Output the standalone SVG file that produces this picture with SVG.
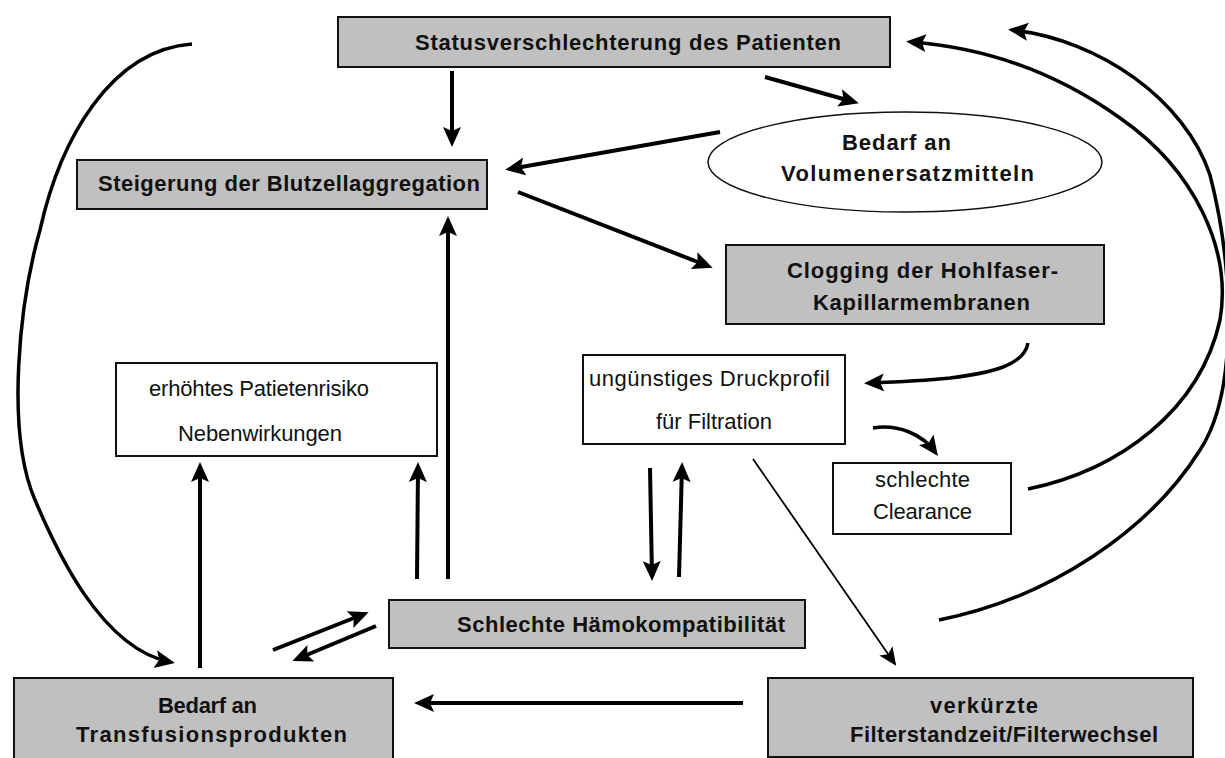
<svg xmlns="http://www.w3.org/2000/svg" width="1225" height="758" viewBox="0 0 1225 758">
<style>
.box{fill:#c0c0c0;stroke:#111;stroke-width:2}
.wbox{fill:#fff;stroke:#111;stroke-width:2}
.b{font-family:"Liberation Sans",Arial,sans-serif;font-weight:bold;font-size:22px;fill:#111}
.r{font-family:"Liberation Sans",Arial,sans-serif;font-size:22px;fill:#111}
.c{fill:none;stroke:#000;stroke-width:4}
.cv{fill:none;stroke:#000;stroke-width:3.5}
.thin{fill:none;stroke:#000;stroke-width:1.8}
</style>
<defs>
<marker id="ah" markerUnits="userSpaceOnUse" markerWidth="20" markerHeight="20" viewBox="0 0 20 20" refX="15" refY="10" orient="auto">
<path d="M0,1 L20,10 L0,19 L4,10 z" fill="#000"/>
</marker>
<marker id="ahs" markerUnits="userSpaceOnUse" markerWidth="18" markerHeight="18" viewBox="0 0 18 18" refX="16" refY="9" orient="auto">
<path d="M0,1 L18,9 L0,17 L4,9 z" fill="#000"/>
</marker>
</defs>

<g id="connectors">
<path class="c" d="M452,71 L452,142" marker-end="url(#ah)"/>
<path class="c" d="M765,77 L854,102" marker-end="url(#ah)"/>
<path class="c" d="M720,132 L510,169" marker-end="url(#ah)"/>
<path class="c" d="M518,192 L708,266" marker-end="url(#ah)"/>
<path class="c" d="M448,579 L448,221" marker-end="url(#ah)"/>
<path class="c" d="M417,579 L418,467" marker-end="url(#ah)"/>
<path class="c" d="M200,668 L200,467" marker-end="url(#ah)"/>
<path class="c" d="M273,650 L364,614" marker-end="url(#ah)"/>
<path class="c" d="M376,626 L297,659" marker-end="url(#ah)"/>
<path class="c" d="M743,703 L419,703" marker-end="url(#ah)"/>
<path class="c" d="M650,468 L652,576" marker-end="url(#ah)"/>
<path class="c" d="M679,577 L682,467" marker-end="url(#ah)"/>
<path class="thin" d="M753,459 L895,664" marker-end="url(#ahs)"/>
<path class="cv" d="M1028,343 C1024,366 990,373 950,378 C920,381 895,382 869,383" marker-end="url(#ah)"/>
<path class="cv" d="M873,428 C898,424 922,434 935,452" marker-end="url(#ah)"/>
<path class="cv" d="M1028,489 C1120,470 1200,410 1220,320 C1232,250 1195,170 1120,118 C1060,75 990,48 911,42" marker-end="url(#ah)"/>
<path class="cv" d="M939,620 C1050,598 1150,530 1200,450 C1240,390 1232,260 1210,175 C1185,100 1100,40 1013,30" marker-end="url(#ah)"/>
<path class="cv" d="M192,44 C110,50 60,140 40,230 C20,300 5,430 35,500 C55,547 100,648 170,662" marker-end="url(#ah)"/>
</g>

<g id="status">
<rect class="box" x="338" y="17" width="552" height="50"/>
<text class="b" x="415" y="50" textLength="426" lengthAdjust="spacing">Statusverschlechterung des Patienten</text>
</g>

<g id="steigerung">
<rect class="box" x="77" y="160" width="410" height="49"/>
<text class="b" x="98" y="191" textLength="382" lengthAdjust="spacing">Steigerung der Blutzellaggregation</text>
</g>

<g id="volumen">
<ellipse cx="905" cy="162" rx="197" ry="50" fill="#fff" stroke="#111" stroke-width="1.5"/>
<text class="b" x="842" y="150" textLength="109" lengthAdjust="spacing">Bedarf an</text>
<text class="b" x="781" y="181" textLength="253" lengthAdjust="spacing">Volumenersatzmitteln</text>
</g>

<g id="clogging">
<rect class="box" x="726" y="245" width="378" height="79"/>
<text class="b" x="787" y="278" textLength="271" lengthAdjust="spacing">Clogging der Hohlfaser-</text>
<text class="b" x="813" y="310" textLength="217" lengthAdjust="spacing">Kapillarmembranen</text>
</g>

<g id="druckprofil">
<rect class="wbox" x="583" y="355" width="262" height="89"/>
<text class="r" x="589" y="386" textLength="241" lengthAdjust="spacing">ungünstiges Druckprofil</text>
<text class="r" x="656" y="429" textLength="116" lengthAdjust="spacing">für Filtration</text>
</g>

<g id="risiko">
<rect class="wbox" x="116" y="363" width="321" height="93"/>
<text class="r" x="149" y="396" textLength="220" lengthAdjust="spacing">erhöhtes Patietenrisiko</text>
<text class="r" x="178" y="441" textLength="164" lengthAdjust="spacing">Nebenwirkungen</text>
</g>

<g id="clearance">
<rect class="wbox" x="833" y="463" width="178" height="71"/>
<text class="r" x="875" y="487" textLength="95" lengthAdjust="spacing">schlechte</text>
<text class="r" x="873" y="519" textLength="99" lengthAdjust="spacing">Clearance</text>
</g>

<g id="haemo">
<rect class="box" x="389" y="600" width="416" height="48"/>
<text class="b" x="457" y="632" textLength="328" lengthAdjust="spacing">Schlechte Hämokompatibilität</text>
</g>

<g id="transfusion">
<rect class="box" x="14" y="678" width="379" height="90"/>
<text class="b" x="158" y="713" textLength="99" lengthAdjust="spacing">Bedarf an</text>
<text class="b" x="76" y="742" textLength="271" lengthAdjust="spacing">Transfusionsprodukten</text>
</g>

<g id="filter">
<rect class="box" x="768" y="678" width="425" height="79"/>
<text class="b" x="930" y="713" textLength="108" lengthAdjust="spacing">verkürzte</text>
<text class="b" x="850" y="742" textLength="308" lengthAdjust="spacing">Filterstandzeit/Filterwechsel</text>
</g>
</svg>
